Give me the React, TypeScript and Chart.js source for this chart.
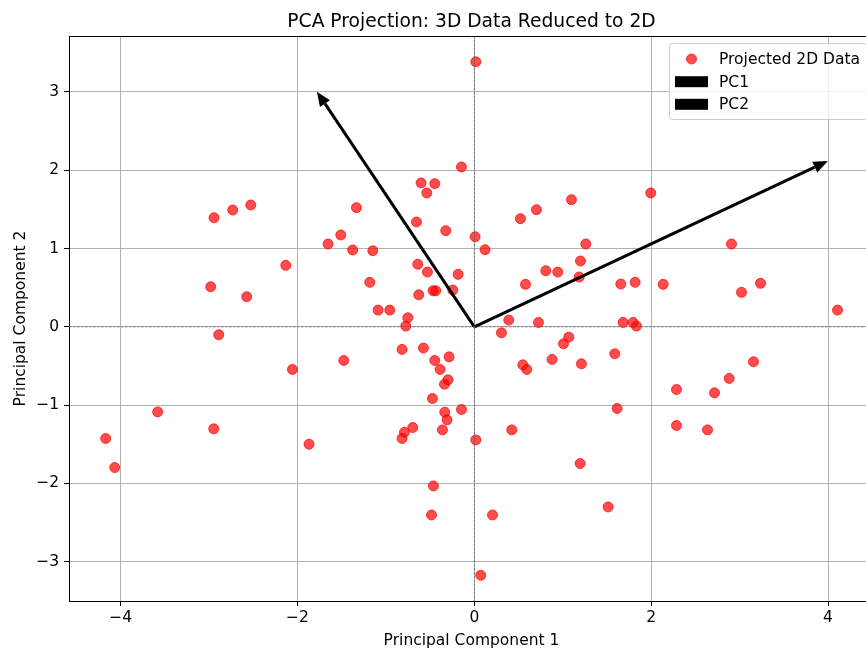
import React, { useEffect, useRef } from "react";
import { Chart, registerables } from "chart.js";

Chart.register(...registerables);

// ---- data ----
const titleText = "PCA Projection: 3D Data Reduced to 2D";
const xAxisLabel = "Principal Component 1";
const yAxisLabel = "Principal Component 2";
const seriesLabels = ["Projected 2D Data", "PC1", "PC2"];

const pcX = [
  -2.945, -2.733, -2.529, -1.334, -1.655, -1.511, -1.376, -2.133, -2.982, -2.575,
  0.016, -0.146, -0.603, -0.448, -0.538, 1.098, 0.702, 0.521, -0.655, -0.324,
  0.008, 1.26, -1.149, 0.121, 1.2, -0.64, -0.531, 0.808, 0.943, -0.184,
  1.185, -1.183, 1.656, 0.578, -0.629, -0.467, -0.437, -0.244, -1.089, -0.957,
  -0.753, -0.776, 0.389, 0.725, 1.682, 0.306, 1.995, 2.908, 1.818, 2.135,
  3.021, 3.236, 4.107, 1.795, 1.833, -2.891, -2.058, -1.477, -3.582, -2.948,
  -1.87, -4.17, -4.068, 1.068, 1.008, -0.818, -0.576, -0.448, -0.286, -0.388,
  -0.298, -0.338, 0.548, 0.593, 0.879, 1.211, 1.588, -0.474, -0.335, -0.309,
  -0.146, -0.697, -0.791, -0.818, -0.361, 0.423, 0.016, 1.196, 1.614, -0.463,
  -0.485, 0.205, 1.513, 0.072, 2.286, 2.286, 2.716, 2.882, 3.157, 2.637,
];
const pcY = [
  1.394, 1.492, 1.556, 1.522, 1.058, 1.173, 0.981, 0.785, 0.512, 0.384,
  3.385, 2.042, 1.838, 1.829, 1.71, 1.624, 1.496, 1.381, 1.339, 1.228,
  1.151, 1.058, 0.972, 0.985, 0.84, 0.798, 0.699, 0.716, 0.699, 0.67,
  0.636, 0.568, 0.546, 0.542, 0.409, 0.46, 0.46, 0.469, 0.213, 0.213,
  0.115, 0.009, 0.086, 0.056, 0.056, -0.077, 1.71, 1.058, 0.568, 0.542,
  0.44, 0.555, 0.213, 0.056, 0.009, -0.102, -0.545, -0.43, -1.087, -1.304,
  -1.5, -1.427, -1.798, -0.132, -0.217, -0.289, -0.272, -0.43, -0.384, -0.545,
  -0.678, -0.733, -0.486, -0.545, -0.417, -0.473, -0.345, -0.916, -1.091, -1.189,
  -1.057, -1.287, -1.347, -1.427, -1.317, -1.317, -1.445, -1.747, -1.044, -2.033,
  -2.404, -2.404, -2.302, -3.175, -0.801, -1.261, -0.844, -0.66, -0.447, -1.317,
];

// arrow shafts (origin -> base of arrow head)
const pc1Vector = [3.85, 2.04];
const pc2Vector = [-1.69, 2.85];

const xTicks = [-4, -2, 0, 2, 4];
const yTicks = [-3, -2, -1, 0, 1, 2, 3];
const xLimits = [-4.585, 4.52];
const yLimits = [-3.503, 3.715];

// ---- styling ----
const FONT = '"DejaVu Sans", sans-serif';
const POINT_COLOR = "rgba(255,0,0,0.7)";
const TICK_SIZE = 15.5;
const LABEL_SIZE = 15.5;
const TITLE_SIZE = 18.7;
const fmt = (v: number) => (v < 0 ? "\u2212" + Math.abs(v) : String(v));

const decorPlugin = {
  id: "decor",
  afterDatasetsDraw(chart: any) {
    const { ctx, chartArea: ca } = chart;
    const xs = chart.scales.x;
    const ys = chart.scales.y;
    ctx.save();
    ctx.beginPath();
    ctx.rect(ca.left, ca.top, ca.right - ca.left, ca.bottom - ca.top);
    ctx.clip();
    // zero reference lines
    const x0 = xs.getPixelForValue(0);
    const y0 = ys.getPixelForValue(0);
    ctx.strokeStyle = "#6a6a6a";
    ctx.lineWidth = 0.8;
    ctx.setLineDash([2.5, 1.5]);
    ctx.beginPath();
    ctx.moveTo(ca.left, y0);
    ctx.lineTo(ca.right, y0);
    ctx.moveTo(x0, ca.top);
    ctx.lineTo(x0, ca.bottom);
    ctx.stroke();
    ctx.setLineDash([]);
    // arrow heads
    chart.data.datasets.forEach((ds: any) => {
      if (!ds.isArrow) return;
      const a = ds.data[0];
      const b = ds.data[1];
      const ax = xs.getPixelForValue(a.x), ay = ys.getPixelForValue(a.y);
      const bx = xs.getPixelForValue(b.x), by = ys.getPixelForValue(b.y);
      const len = Math.hypot(bx - ax, by - ay);
      const ux = (bx - ax) / len, uy = (by - ay) / len;
      const L = 14.5, W = 6;
      const tx = bx + ux * L, ty = by + uy * L;
      ctx.fillStyle = "#000";
      ctx.beginPath();
      ctx.moveTo(tx, ty);
      ctx.lineTo(bx - uy * W, by + ux * W);
      ctx.lineTo(bx + uy * W, by - ux * W);
      ctx.closePath();
      ctx.fill();
    });
    ctx.restore();
  },
  afterDraw(chart: any) {
    const { ctx, chartArea: ca } = chart;
    ctx.save();
    // top & right spines
    ctx.strokeStyle = "#000";
    ctx.lineWidth = 1;
    ctx.beginPath();
    ctx.moveTo(ca.left, ca.top + 0.5);
    ctx.lineTo(ca.right, ca.top + 0.5);
    ctx.lineTo(ca.right, ca.bottom);
    ctx.stroke();

    // title
    ctx.fillStyle = "#000";
    ctx.textAlign = "center";
    ctx.textBaseline = "alphabetic";
    ctx.font = `${TITLE_SIZE}px ${FONT}`;
    const cx = (ca.left + ca.right) / 2;
    ctx.fillText(titleText, cx, ca.top - 9);

    // axis labels
    ctx.font = `${LABEL_SIZE}px ${FONT}`;
    ctx.fillText(xAxisLabel, cx, 645);
    ctx.save();
    ctx.translate(25, (ca.top + ca.bottom) / 2);
    ctx.rotate(-Math.PI / 2);
    ctx.fillText(yAxisLabel, 0, 0);
    ctx.restore();

    // legend
    const lr = ca.right - 7;
    const ll = lr - 198;
    const lt = ca.top + 7;
    const lh = 76;
    ctx.fillStyle = "rgba(255,255,255,0.8)";
    ctx.strokeStyle = "#cccccc";
    ctx.lineWidth = 1;
    ctx.beginPath();
    (ctx as any).roundRect(ll + 0.5, lt + 0.5, lr - ll, lh, 3);
    ctx.fill();
    ctx.stroke();
    const rows = [lt + 16, lt + 38.7, lt + 61.3];
    const hx = ll + 6;
    const hw = 33;
    ctx.font = `${LABEL_SIZE}px ${FONT}`;
    ctx.textAlign = "left";
    ctx.textBaseline = "middle";
    seriesLabels.forEach((lab, i) => {
      const ry = rows[i];
      if (i === 0) {
        ctx.fillStyle = POINT_COLOR;
        ctx.strokeStyle = POINT_COLOR;
        ctx.beginPath();
        ctx.arc(hx + hw / 2, ry, 5, 0, Math.PI * 2);
        ctx.fill();
        ctx.stroke();
      } else {
        ctx.fillStyle = "#000";
        ctx.fillRect(hx, ry - 5.5, hw, 11);
      }
      ctx.fillStyle = "#000";
      ctx.fillText(lab, ll + 50, ry + 1);
    });
    ctx.restore();
  },
};

export default function App() {
  const ref = useRef<HTMLCanvasElement | null>(null);

  useEffect(() => {
    if (!ref.current) return;
    Chart.defaults.font.family = FONT;
    const points = pcX.map((x, i) => ({ x, y: pcY[i] }));
    const chart = new Chart(ref.current, {
      type: "scatter",
      data: {
        datasets: [
          {
            label: seriesLabels[0],
            data: points,
            backgroundColor: POINT_COLOR,
            borderColor: POINT_COLOR,
            borderWidth: 1,
            pointRadius: 5,
            pointHoverRadius: 5,
            order: 2,
          },
          {
            label: seriesLabels[1],
            data: [{ x: 0, y: 0 }, { x: pc1Vector[0], y: pc1Vector[1] }],
            showLine: true,
            borderColor: "#000",
            backgroundColor: "#000",
            borderWidth: 3,
            pointRadius: 0,
            pointHoverRadius: 0,
            order: 1,
            isArrow: true,
          } as any,
          {
            label: seriesLabels[2],
            data: [{ x: 0, y: 0 }, { x: pc2Vector[0], y: pc2Vector[1] }],
            showLine: true,
            borderColor: "#000",
            backgroundColor: "#000",
            borderWidth: 3,
            pointRadius: 0,
            pointHoverRadius: 0,
            order: 1,
            isArrow: true,
          } as any,
        ],
      },
      options: {
        responsive: false,
        animation: false,
        devicePixelRatio: 1,
        events: [],
        layout: { padding: { top: 36, right: 26, left: 0, bottom: 0 } },
        plugins: {
          legend: { display: false },
          tooltip: { enabled: false },
          title: { display: false },
        },
        scales: {
          x: {
            type: "linear",
            min: xLimits[0],
            max: xLimits[1],
            afterBuildTicks: (s: any) => {
              s.ticks = xTicks.map((v) => ({ value: v }));
            },
            afterFit: (s: any) => {
              s.height = 49;
            },
            grid: {
              color: "#b0b0b0",
              lineWidth: 1,
              tickColor: "#000",
              tickWidth: 1,
              tickLength: 5,
              drawTicks: true,
            },
            border: { display: true, color: "#000", width: 1 },
            ticks: {
              color: "#000",
              font: { family: FONT, size: TICK_SIZE },
              padding: 3,
              maxRotation: 0,
              autoSkip: false,
              callback: (v: any) => fmt(Number(v)),
            },
          },
          y: {
            type: "linear",
            min: yLimits[0],
            max: yLimits[1],
            afterBuildTicks: (s: any) => {
              s.ticks = yTicks.map((v) => ({ value: v }));
            },
            afterFit: (s: any) => {
              s.width = 69;
            },
            grid: {
              color: "#b0b0b0",
              lineWidth: 1,
              tickColor: "#000",
              tickWidth: 1,
              tickLength: 5,
              drawTicks: true,
            },
            border: { display: true, color: "#000", width: 1 },
            ticks: {
              color: "#000",
              font: { family: FONT, size: TICK_SIZE },
              padding: 5,
              autoSkip: false,
              callback: (v: any) => fmt(Number(v)),
            },
          },
        },
      } as any,
      plugins: [decorPlugin],
    });
    return () => chart.destroy();
  }, []);

  return (
    <div
      style={{
        position: "fixed",
        left: 0,
        top: 0,
        width: 900,
        height: 650,
        background: "#fff",
        overflow: "hidden",
      }}
    >
      <canvas ref={ref} width={900} height={650} style={{ display: "block", width: 900, height: 650 }} />
    </div>
  );
}
